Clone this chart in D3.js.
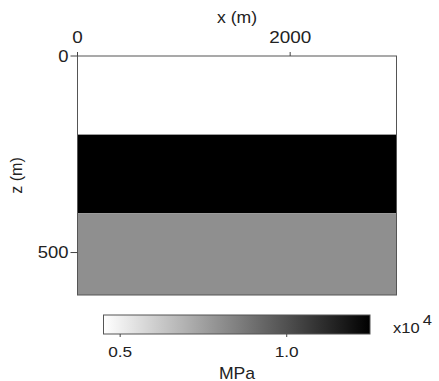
<!DOCTYPE html>
<html>
<head>
<meta charset="utf-8">
<script src="https://cdn.jsdelivr.net/npm/d3@7"></script>
<style>
  html, body { margin: 0; padding: 0; background: #fff; }
  svg { display: block; font-family: "Liberation Sans", Arial, sans-serif; }
  .lbl { fill: #222; }
</style>
</head>
<body>
<svg id="chart" width="439" height="381"></svg>
<script>
// model layers (depth in m, value in MPa)
const layerTops = [0, 200, 400];
const layerBottoms = [200, 400, 608];
const layerValues = [4500, 12500, 8000];
const xTicks = [0, 2000];
const zTicks = [0, 500];
const cbarTicks = [0.5, 1.0];
const xExtent = [0, 3000];
const zExtent = [0, 608];
const valueExtent = [4500, 12500];

const svg = d3.select("#chart");

const x = d3.scaleLinear().domain(xExtent).range([77.5, 396.5]);
const z = d3.scaleLinear().domain(zExtent).range([56, 295]);
const gray = d3.scaleLinear().domain(valueExtent).range(["#ffffff", "#000000"]).interpolate(d3.interpolateRgb);

const layers = layerTops.map((t, i) => ({ top: t, bottom: layerBottoms[i], value: layerValues[i] }));

svg.append("g").selectAll("rect")
  .data(layers)
  .join("rect")
  .attr("x", x(xExtent[0]))
  .attr("y", (d) => z(d.top))
  .attr("width", x(xExtent[1]) - x(xExtent[0]))
  .attr("height", (d) => z(d.bottom) - z(d.top))
  .attr("fill", (d) => gray(d.value));

// frame
svg.append("rect")
  .attr("x", x(xExtent[0])).attr("y", z(zExtent[0]))
  .attr("width", x(xExtent[1]) - x(xExtent[0]))
  .attr("height", z(zExtent[1]) - z(zExtent[0]))
  .attr("fill", "none").attr("stroke", "#555").attr("stroke-width", 1);

function stretched(sel, sx) {
  sel.each(function () {
    const t = d3.select(this);
    const px = +t.attr("data-x"), py = +t.attr("data-y");
    t.attr("transform", `translate(${px},${py}) scale(${sx},1)`);
  });
}

// top x axis
const xa = svg.append("g");
xa.selectAll("line").data(xTicks).join("line")
  .attr("x1", (d) => x(d)).attr("x2", (d) => x(d))
  .attr("y1", z(0)).attr("y2", z(0) - 4)
  .attr("stroke", "#444");
xa.selectAll("text").data(xTicks).join("text")
  .attr("class", "lbl")
  .attr("data-x", (d) => x(d)).attr("data-y", 43)
  .attr("text-anchor", "middle").attr("font-size", 16)
  .text((d) => d)
  .call(stretched, 1.18);

// left z axis
const za = svg.append("g");
za.selectAll("line").data(zTicks).join("line")
  .attr("x1", x(0)).attr("x2", x(0) - 7)
  .attr("y1", (d) => z(d)).attr("y2", (d) => z(d))
  .attr("stroke", "#444");
za.selectAll("text").data(zTicks).join("text")
  .attr("class", "lbl")
  .attr("data-x", 68.5).attr("data-y", (d) => z(d) + 5.5)
  .attr("text-anchor", "end").attr("font-size", 16)
  .text((d) => d)
  .call(stretched, 1.15);

svg.append("text").attr("class", "lbl")
  .attr("data-x", 237).attr("data-y", 23)
  .attr("text-anchor", "middle").attr("font-size", 16)
  .text("x (m)")
  .call(stretched, 1.1);

svg.append("text").attr("class", "lbl")
  .attr("transform", `translate(22,${(z(zExtent[0]) + z(zExtent[1])) / 2}) rotate(-90)`)
  .attr("text-anchor", "middle").attr("font-size", 16)
  .text("z (m)");

// colorbar
const cb = d3.scaleLinear().domain([0.45, 1.25]).range([103.5, 370]);
const cbY = 315, cbH = 19;
const defs = svg.append("defs");
const grad = defs.append("linearGradient").attr("id", "cbar-grad");
grad.selectAll("stop")
  .data(d3.range(0, 1.01, 0.1))
  .join("stop")
  .attr("offset", (d) => `${d * 100}%`)
  .attr("stop-color", (d) => gray(valueExtent[0] + d * (valueExtent[1] - valueExtent[0])));

svg.append("rect")
  .attr("x", cb.range()[0]).attr("y", cbY)
  .attr("width", cb.range()[1] - cb.range()[0]).attr("height", cbH)
  .attr("fill", "url(#cbar-grad)")
  .attr("stroke", "#555").attr("stroke-width", 1);

const ca = svg.append("g");
ca.selectAll("line").data(cbarTicks).join("line")
  .attr("x1", (d) => cb(d)).attr("x2", (d) => cb(d))
  .attr("y1", cbY + cbH).attr("y2", cbY + cbH + 3)
  .attr("stroke", "#444");
ca.selectAll("text").data(cbarTicks).join("text")
  .attr("class", "lbl")
  .attr("data-x", (d) => cb(d)).attr("data-y", 357)
  .attr("text-anchor", "middle").attr("font-size", 15)
  .text(d3.format(".1f"))
  .call(stretched, 1.15);

svg.append("text").attr("class", "lbl")
  .attr("data-x", 237).attr("data-y", 378.5)
  .attr("text-anchor", "middle").attr("font-size", 16)
  .text("MPa")
  .call(stretched, 1.1);

const exp = svg.append("text").attr("class", "lbl")
  .attr("data-x", 393).attr("data-y", 333).attr("font-size", 15)
  .call(stretched, 1.1);
exp.append("tspan").text("x10");
exp.append("tspan").attr("dx", 3).attr("dy", -8).attr("font-size", 15).text("4");
</script>
</body>
</html>
